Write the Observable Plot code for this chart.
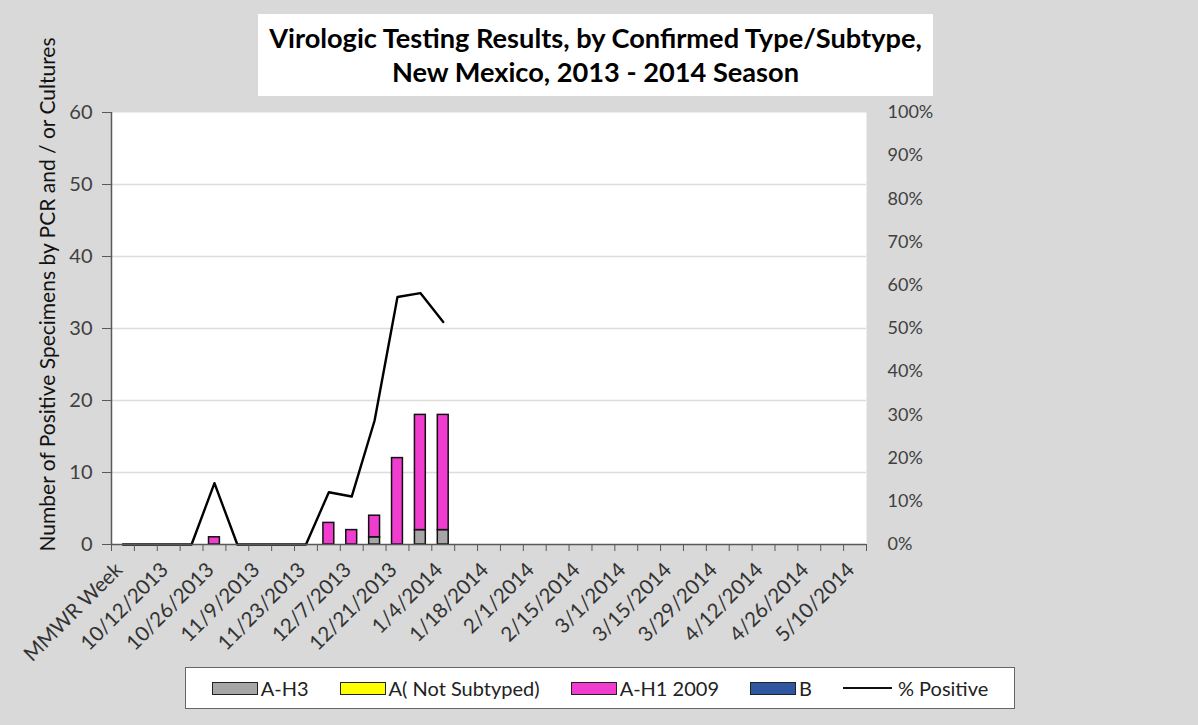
<!DOCTYPE html>
<html><head><meta charset="utf-8">
<script src="https://cdn.jsdelivr.net/npm/d3@7"></script>
<script src="https://cdn.jsdelivr.net/npm/@observablehq/plot@0.6"></script>
<style>
body{margin:0;background:#d9d9d9;width:1198px;height:725px;overflow:hidden;font-family:Lato,sans-serif;position:relative}
#chart{position:absolute;left:0;top:0}
#title{position:absolute;left:258px;top:14px;width:675px;height:82px;background:#fff;display:flex;flex-direction:column;justify-content:center;align-items:center;font-weight:700;font-size:27.2px;line-height:34px;color:#000}
#legend{position:absolute;left:185px;top:667px;width:830px;height:42px;box-sizing:border-box;background:#fff;border:1px solid #666;display:flex;align-items:center;justify-content:center;gap:31px;font-size:20px;color:#222}
.item{display:flex;align-items:center;gap:3px}
.sw{width:44px;height:11px;border:1.5px solid #222}
.ln{width:49px;height:0;border-top:2px solid #111;margin-right:3px}
</style></head><body>
<div id="chart"></div>
<div id="title"><div>Virologic Testing Results, by Confirmed Type/Subtype,</div><div>New Mexico, 2013 - 2014 Season</div></div>
<div id="legend"></div>
<script>
const categories = ["MMWR Week","10/5/2013","10/12/2013","10/19/2013","10/26/2013","11/2/2013","11/9/2013","11/16/2013","11/23/2013","11/30/2013","12/7/2013","12/14/2013","12/21/2013","12/28/2013","1/4/2014","1/11/2014","1/18/2014","1/25/2014","2/1/2014","2/8/2014","2/15/2014","2/22/2014","3/1/2014","3/8/2014","3/15/2014","3/22/2014","3/29/2014","4/5/2014","4/12/2014","4/19/2014","4/26/2014","5/3/2014","5/10/2014"];
const seriesNames = ["A-H3","A( Not Subtyped)","A-H1 2009","B"];
const seriesColors = ["#a6a6a6","#ffff00","#f03ccf","#2f56a0"];
const aH3       = [0,0,0,0,0,0,0,0,0,0,0,1,0,2,2];
const aNotSub   = [0,0,0,0,0,0,0,0,0,0,0,0,0,0,0];
const aH1_2009  = [0,0,0,0,1,0,0,0,0,3,2,3,12,16,16];
const typeB     = [0,0,0,0,0,0,0,0,0,0,0,0,0,0,0];
const pctPositive = [0,0,0,0,14.2,0,0,0,0,12.1,11.1,28.7,57.3,58.2,51.5];
const leftTicks = [0,10,20,30,40,50,60];
const rightTickLabels = ["0%","10%","20%","30%","40%","50%","60%","70%","80%","90%","100%"];
const yTitle = "Number of Positive Specimens by PCR and / or Cultures";
const lineName = "% Positive";

const yMax = 60;
const seriesValues = [aH3, aNotSub, aH1_2009, typeB];
const rows = [];
categories.forEach((c, i) => {
  seriesNames.forEach((s, k) => {
    const v = seriesValues[k][i];
    if (v) rows.push({i, series: s, value: v});
  });
});
const linePts = pctPositive.map((p, i) => ({x: i + 0.5, y: p / 100 * yMax}));

const chart = Plot.plot({
  width: 1198, height: 665,
  marginLeft: 111, marginRight: 332, marginTop: 112, marginBottom: 121,
  style: {background: "transparent", fontFamily: "Lato, sans-serif", color: "#333", overflow: "visible"},
  x: {domain: [0, categories.length]},
  y: {domain: [0, yMax]},
  color: {domain: seriesNames, range: seriesColors},
  marks: [
    Plot.frame({fill: "white", stroke: null}),
    Plot.gridY({ticks: leftTicks.slice(1, -1), stroke: "#dcdcdc", strokeOpacity: 1, strokeWidth: 1.5}),
    Plot.rectY(rows, {x1: "i", x2: d => d.i + 1, y: "value", fill: "series", stroke: "#111", strokeWidth: 1.5, insetLeft: 6, insetRight: 6}),
    Plot.line(linePts, {x: "x", y: "y", stroke: "#000", strokeWidth: 2.4}),
    Plot.ruleY([0], {stroke: "#595959", strokeWidth: 1.5}),
    Plot.ruleX([0], {stroke: "#595959", strokeWidth: 1.5}),
    Plot.axisY({ticks: leftTicks, tickSize: 9, tickPadding: 10, fontSize: 20, label: null, stroke: "#595959", fill: "#404040"}),
    Plot.axisY({anchor: "right", ticks: rightTickLabels.map((t, k) => k * yMax / 10), tickSize: 0, tickPadding: 21, tickFormat: d => rightTickLabels[Math.round(d / yMax * 10)], fontSize: 18, label: null, fill: "#404040"}),
    Plot.axisX({ticks: d3.range(0, categories.length + 1), tickSize: 7, tickFormat: () => "", label: null, stroke: "#595959"}),
    Plot.axisX({ticks: d3.range(0, categories.length, 2).map(i => i + 0.5), tickSize: 0, tickPadding: 22, dx: -4, tickRotate: -45, tickFormat: d => categories[d - 0.5], fontSize: 20.5, label: null, fill: "#333"}),
    Plot.text([yTitle], {frameAnchor: "left", textAnchor: "middle", rotate: -90, dx: -63, dy: -34, fontSize: 21, fill: "#111"})
  ]
});
document.getElementById("chart").appendChild(chart);

const legend = document.getElementById("legend");
seriesNames.forEach((s, k) => {
  const it = document.createElement("div"); it.className = "item";
  const sw = document.createElement("div"); sw.className = "sw"; sw.style.background = seriesColors[k];
  const t = document.createElement("span"); t.textContent = s;
  it.append(sw, t); legend.append(it);
});
{
  const it = document.createElement("div"); it.className = "item";
  const ln = document.createElement("div"); ln.className = "ln";
  const t = document.createElement("span"); t.textContent = lineName;
  it.append(ln, t); legend.append(it);
}
</script>
</body></html>
